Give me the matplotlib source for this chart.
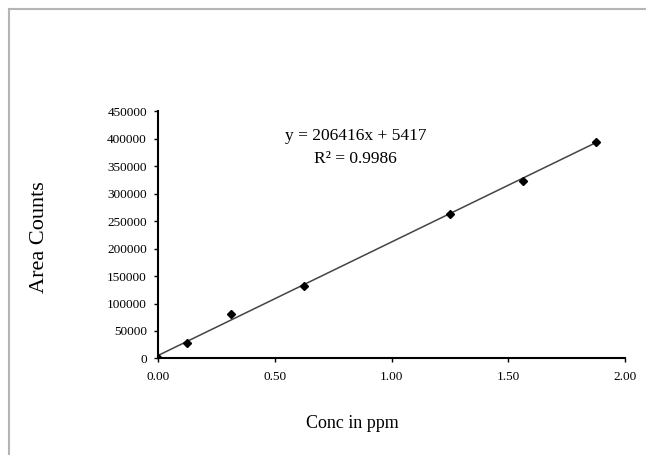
import numpy as np
from matplotlib import pyplot as plt
from matplotlib.lines import Line2D

# calibration standards
conc_ppm = [0.0, 0.125, 0.3125, 0.625, 1.25, 1.5625, 1.875]
area_counts = [0, 28700, 80000, 132000, 262500, 322500, 393500]

# trendline reported for the calibration
slope = 206416
intercept = 5417
r_squared = 0.9986

x_ticks = [0.0, 0.5, 1.0, 1.5, 2.0]
y_ticks = list(range(0, 450001, 50000))

plt.rcParams['font.family'] = ['Liberation Serif', 'DejaVu Serif']

fig = plt.figure(figsize=(6.46, 4.55), dpi=100)
ax = fig.add_axes([0.2446, 0.2121, 0.7229, 0.5439])

fit_x = np.array([conc_ppm[0], conc_ppm[-1]])
ax.plot(fit_x, slope * fit_x + intercept, color='#444444', lw=1.1)
ax.plot(conc_ppm, area_counts, linestyle='none', marker='D', ms=4,
        color='black')

ax.set_xlim(0, 2.0)
ax.set_ylim(0, 450000)
ax.set_xticks(x_ticks)
ax.set_xticklabels([f"{v:.2f}" for v in x_ticks])
ax.set_yticks(y_ticks)
ax.set_yticklabels([str(v) for v in y_ticks])
ax.tick_params(labelsize=9.5, length=3, width=1, direction='out')
ax.tick_params(axis='x', pad=6)
ax.tick_params(axis='y', pad=5)

for side in ['top', 'right']:
    ax.spines[side].set_visible(False)
for side in ['left', 'bottom']:
    ax.spines[side].set_linewidth(1.5)

ax.text(0.424, 0.899, f"y = {slope}x + {intercept}", transform=ax.transAxes,
        ha='center', va='center', fontsize=12.5)
ax.text(0.422, 0.806, f"R² = {r_squared}", transform=ax.transAxes,
        ha='center', va='center', fontsize=12.5)

fig.text(352 / 646, 1 - 424 / 455, "Conc in ppm", ha='center', va='center',
         fontsize=13)
fig.text(40 / 646, 1 - 237 / 455, "Area Counts", ha='center', va='center',
         rotation=90, fontsize=16)

# frame around the chart area
fig.add_artist(Line2D([9 / 646, 1], [1 - 9 / 455, 1 - 9 / 455],
                      transform=fig.transFigure, color='#b5b5b5', lw=1.5))
fig.add_artist(Line2D([9 / 646, 9 / 646], [0, 1 - 9 / 455],
                      transform=fig.transFigure, color='#b5b5b5', lw=1.5))

fig.savefig('out.png', dpi=100)
